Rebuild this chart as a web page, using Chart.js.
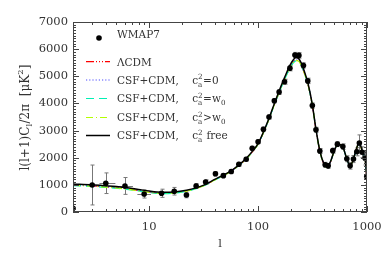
<!DOCTYPE html>
<html>
<head>
<meta charset="utf-8">
<script src="https://cdn.jsdelivr.net/npm/chart.js@4.4.1/dist/chart.umd.min.js"></script>
<style>
  html, body { margin: 0; padding: 0; background: #fff; }
  #wrap { width: 390px; height: 260px; position: relative; }
</style>
</head>
<body>
<div id="wrap"><canvas id="clChart"></canvas></div>
<script>
// ── WMAP7 binned band powers ──
const wmapL   = [2, 3, 4, 6, 9, 13, 17, 22, 27, 33, 40.6, 48, 56.7, 66.6, 77.8, 88.3, 100, 112, 126, 141, 156, 175, 196, 218, 237, 261, 286, 315, 340, 369, 413, 440, 485, 535, 600, 653, 700, 751, 806, 851, 901, 961, 994];
const wmapD   = [140, 995, 1060, 960, 665, 690, 765, 625, 960, 1105, 1410, 1340, 1490, 1760, 1945, 2350, 2590, 3050, 3500, 4100, 4420, 4800, 5300, 5780, 5770, 5400, 4830, 3920, 3030, 2250, 1740, 1700, 2260, 2500, 2410, 1960, 1700, 1950, 2220, 2540, 2200, 1980, 1300];
const wmapErr = [0, 735, 380, 310, 150, 150, 140, 100, 90, 80, 80, 70, 70, 70, 70, 70, 70, 80, 80, 80, 90, 90, 100, 100, 100, 100, 100, 100, 90, 90, 90, 90, 90, 90, 100, 110, 120, 130, 150, 300, 200, 250, 300];
const wmapLLo = [null, null, 3.5, 5.1, 7.8, 11.5, null, null, null, null, null, null, null, null, null, null, null, null, null, null, null, null, null, null, null, null, null, null, null, null, null, null, null, null, null, null, null, null, null, null, null, null, null];
const wmapLHi = [null, null, 4.9, 7.1, 10.4, 14.6, null, null, null, null, null, null, null, null, null, null, null, null, null, null, null, null, null, null, null, null, null, null, null, null, null, null, null, null, null, null, null, null, null, null, null, null, null];

// ── theory curves ──
const curveL   = [2, 3, 4, 5, 6, 8, 10, 13, 17, 22, 27, 33, 40, 48, 56, 66, 78, 90, 100, 112, 125, 141, 156, 175, 196, 210, 222, 235, 250, 265, 288, 315, 340, 369, 400, 427, 460, 500, 540, 600, 650, 700, 750, 800, 850, 900, 930, 960, 985, 1000];
const lcdmD    = [995, 960, 925, 895, 860, 795, 735, 700, 715, 780, 870, 1005, 1185, 1345, 1495, 1705, 1965, 2250, 2500, 2925, 3390, 3950, 4410, 4880, 5320, 5510, 5590, 5570, 5400, 5140, 4680, 3930, 3040, 2250, 1790, 1650, 1825, 2245, 2510, 2400, 1975, 1690, 1945, 2325, 2545, 2260, 2140, 1940, 1490, 945];
const csf0D    = [1000, 965, 930, 900, 865, 800, 740, 705, 715, 780, 875, 1005, 1190, 1350, 1500, 1710, 1965, 2255, 2505, 2930, 3395, 3955, 4415, 4890, 5330, 5520, 5600, 5580, 5410, 5150, 4685, 3935, 3045, 2250, 1790, 1655, 1830, 2250, 2505, 2400, 1975, 1690, 1945, 2325, 2550, 2265, 2145, 1945, 1495, 945];
const csfW0D   = [975, 940, 905, 875, 840, 775, 715, 680, 695, 765, 860, 995, 1180, 1340, 1490, 1700, 1955, 2245, 2495, 2920, 3385, 3945, 4400, 4870, 5300, 5490, 5570, 5550, 5390, 5130, 4670, 3925, 3035, 2245, 1780, 1640, 1820, 2240, 2500, 2395, 1970, 1685, 1940, 2320, 2540, 2255, 2135, 1935, 1485, 940];
const csfGtD   = [985, 950, 915, 885, 850, 785, 725, 690, 705, 770, 865, 1000, 1180, 1340, 1490, 1700, 1960, 2250, 2500, 2925, 3390, 3950, 4405, 4875, 5310, 5500, 5580, 5560, 5395, 5135, 4675, 3930, 3040, 2250, 1785, 1645, 1825, 2245, 2500, 2400, 1975, 1690, 1945, 2325, 2545, 2260, 2140, 1940, 1490, 945];
const csfFreeD = [1035, 1000, 965, 935, 900, 830, 770, 730, 740, 800, 890, 1020, 1200, 1360, 1510, 1720, 1980, 2270, 2520, 2950, 3420, 3990, 4460, 4950, 5400, 5600, 5690, 5660, 5480, 5200, 4720, 3950, 3050, 2250, 1800, 1670, 1840, 2250, 2500, 2400, 1980, 1700, 1950, 2330, 2560, 2270, 2150, 1950, 1500, 950];

// ── axes ──
const xTicks = [10, 100, 1000];
const xMinor = [2, 3, 4, 5, 6, 7, 8, 9, 20, 30, 40, 50, 60, 70, 80, 90, 200, 300, 400, 500, 600, 700, 800, 900];
const yTicks = [0, 1000, 2000, 3000, 4000, 5000, 6000, 7000];
const xTitle = 'l';
const yTitle = 'l(l+1)C_l/2π  [μK^2]';

// legend labels: _x = subscript, ^x = superscript
const legendLabels = ['WMAP7', 'ΛCDM', 'CSF+CDM,    c_a^2=0', 'CSF+CDM,    c_a^2=w_0', 'CSF+CDM,    c_a^2>w_0', 'CSF+CDM,    c_a^2 free'];

const FONT = '"DejaVu Serif", "Liberation Serif", serif';
const INK = '#333';

const toXY = (ls, ds) => ls.map((l, i) => ({ x: l, y: ds[i] }));

// draws (or only measures) text with single-char sub/superscripts
function richText(ctx, str, x, y, size, draw) {
    let cx = x;
    let i = 0;
    const small = size * 0.68;
    while (i < str.length) {
        const c = str[i];
        if ((c === '_' || c === '^') && i + 1 < str.length) {
            let w = 0;
            let j = i;
            // allow a stacked sub+sup pair
            for (let k = 0; k < 2 && j < str.length && (str[j] === '_' || str[j] === '^'); k++) {
                const ch = str[j + 1];
                ctx.font = small + 'px ' + FONT;
                const dy = str[j] === '_' ? size * 0.28 : -size * 0.42;
                if (draw) ctx.fillText(ch, cx, y + dy);
                w = Math.max(w, ctx.measureText(ch).width);
                j += 2;
            }
            cx += w + 0.5;
            i = j;
        } else {
            ctx.font = size + 'px ' + FONT;
            if (draw) ctx.fillText(c, cx, y);
            cx += ctx.measureText(c).width;
            i++;
        }
    }
    return cx - x;
}

const errorBars = {
    id: 'errorBars',
    beforeDatasetsDraw(chart) {
        const { ctx, chartArea: a, scales: { x, y } } = chart;
        ctx.save();
        ctx.beginPath();
        ctx.rect(a.left, a.top, a.right - a.left, a.bottom - a.top);
        ctx.clip();
        ctx.strokeStyle = '#777';
        ctx.lineWidth = 1;
        wmapL.forEach((l, i) => {
            const px = Math.round(x.getPixelForValue(l)) + 0.5;
            const py = y.getPixelForValue(wmapD[i]);
            if (wmapErr[i] > 0) {
                const y0 = y.getPixelForValue(wmapD[i] - wmapErr[i]);
                const y1 = y.getPixelForValue(wmapD[i] + wmapErr[i]);
                ctx.beginPath();
                ctx.moveTo(px, y0); ctx.lineTo(px, y1);
                ctx.moveTo(px - 2, y0); ctx.lineTo(px + 2, y0);
                ctx.moveTo(px - 2, y1); ctx.lineTo(px + 2, y1);
                ctx.stroke();
            }
            if (wmapLLo[i] !== null) {
                ctx.beginPath();
                ctx.moveTo(x.getPixelForValue(wmapLLo[i]), Math.round(py) + 0.5);
                ctx.lineTo(x.getPixelForValue(wmapLHi[i]), Math.round(py) + 0.5);
                ctx.stroke();
            }
        });
        ctx.restore();
    }
};

const frame = {
    id: 'frame',
    afterDraw(chart) {
        const { ctx, chartArea: a, scales: { x, y } } = chart;
        ctx.save();
        ctx.strokeStyle = '#444';
        ctx.lineWidth = 1;
        ctx.strokeRect(a.left + 0.5, a.top + 0.5, a.right - a.left - 1, a.bottom - a.top - 1);
        ctx.beginPath();
        const xTick = (v, len) => {
            const px = Math.round(x.getPixelForValue(v)) + 0.5;
            ctx.moveTo(px, a.bottom); ctx.lineTo(px, a.bottom - len);
            ctx.moveTo(px, a.top); ctx.lineTo(px, a.top + len);
        };
        const yTick = (v, len) => {
            const py = Math.round(y.getPixelForValue(v)) + 0.5;
            ctx.moveTo(a.left, py); ctx.lineTo(a.left + len, py);
            ctx.moveTo(a.right, py); ctx.lineTo(a.right - len, py);
        };
        xTicks.forEach(v => xTick(v, 6));
        xMinor.forEach(v => xTick(v, 3));
        yTicks.forEach(v => yTick(v, 6));
        for (let v = 100; v < 7000; v += 100) if (v % 1000) yTick(v, 3);
        ctx.stroke();

        // axis titles
        ctx.fillStyle = INK;
        ctx.textBaseline = 'alphabetic';
        ctx.textAlign = 'left';
        const xw = richText(ctx, xTitle, 0, 0, 11.5, false);
        richText(ctx, xTitle, (a.left + a.right) / 2 - xw / 2, 247, 11.5, true);

        ctx.save();
        ctx.translate(28.5, 117.5);
        ctx.rotate(-Math.PI / 2);
        const yw = richText(ctx, yTitle, 0, 0, 12, false);
        richText(ctx, yTitle, -yw / 2, 0, 12, true);
        ctx.restore();

        // legend
        const sets = chart.data.datasets;
        const tx = 117;
        // WMAP7 symbol
        ctx.fillStyle = '#000';
        ctx.beginPath();
        ctx.arc(99, 38, sets[0].pointRadius, 0, Math.PI * 2);
        ctx.fill();
        ctx.fillStyle = INK;
        richText(ctx, legendLabels[0], tx, 38, 10.5, true);
        const rows = [61.7, 80, 98.5, 117.5, 135.5];
        const order = [5, 4, 3, 2, 1];
        rows.forEach((ry, k) => {
            const ds = sets[order[k]];
            ctx.save();
            ctx.strokeStyle = ds.borderColor;
            ctx.lineWidth = ds.borderWidth;
            ctx.setLineDash(ds.borderDash || []);
            ctx.beginPath();
            ctx.moveTo(86, ry); ctx.lineTo(110, ry);
            ctx.stroke();
            ctx.restore();
            ctx.fillStyle = INK;
            richText(ctx, legendLabels[k + 1], tx, ry + 3.8, 10.5, true);
        });
        ctx.restore();
    }
};

const lineDefaults = { pointRadius: 0, fill: false, cubicInterpolationMode: 'monotone', showLine: true };

new Chart(document.getElementById('clChart'), {
    type: 'scatter',
    data: {
        datasets: [
            { label: 'WMAP7', data: toXY(wmapL, wmapD), pointRadius: 2.8, backgroundColor: '#000', borderWidth: 0, order: 0 },
            { label: 'CSF+CDM, ca2 free', data: toXY(curveL, csfFreeD), borderColor: '#000', borderWidth: 1.5, order: 1, ...lineDefaults },
            { label: 'CSF+CDM, ca2>w0', data: toXY(curveL, csfGtD), borderColor: '#b4ff00', borderWidth: 1.2, borderDash: [7, 3, 1, 3], order: 2, ...lineDefaults },
            { label: 'CSF+CDM, ca2=w0', data: toXY(curveL, csfW0D), borderColor: '#00f0b4', borderWidth: 1.2, borderDash: [8, 5], order: 3, ...lineDefaults },
            { label: 'CSF+CDM, ca2=0', data: toXY(curveL, csf0D), borderColor: '#4a4aff', borderWidth: 1.2, borderDash: [1.2, 2], order: 4, ...lineDefaults },
            { label: 'LCDM', data: toXY(curveL, lcdmD), borderColor: '#ff0000', borderWidth: 1.2, borderDash: [8, 2, 1, 2, 1, 2, 1, 2], order: 5, ...lineDefaults }
        ]
    },
    options: {
        responsive: true,
        maintainAspectRatio: false,
        animation: false,
        devicePixelRatio: 1,
        layout: { padding: { left: 0, top: 22, right: 23, bottom: 0 } },
        plugins: { legend: { display: false }, tooltip: { enabled: false } },
        scales: {
            x: {
                type: 'logarithmic',
                min: 2, max: 1000,
                afterBuildTicks: s => { s.ticks = xTicks.map(v => ({ value: v })); },
                afterFit: s => { s.height = 48; },
                grid: { display: false, drawTicks: false },
                border: { display: false },
                ticks: {
                    autoSkip: false, maxRotation: 0, padding: 8, color: INK,
                    font: { family: FONT, size: 11.5 },
                    callback: v => String(v)
                }
            },
            y: {
                type: 'linear',
                min: 0, max: 7000,
                afterBuildTicks: s => { s.ticks = yTicks.map(v => ({ value: v })); },
                afterFit: s => { s.width = 73; },
                grid: { display: false, drawTicks: false },
                border: { display: false },
                ticks: {
                    padding: 5, color: INK,
                    font: { family: FONT, size: 11.5 },
                    callback: v => String(v)
                }
            }
        }
    },
    plugins: [errorBars, frame]
});
</script>
</body>
</html>
